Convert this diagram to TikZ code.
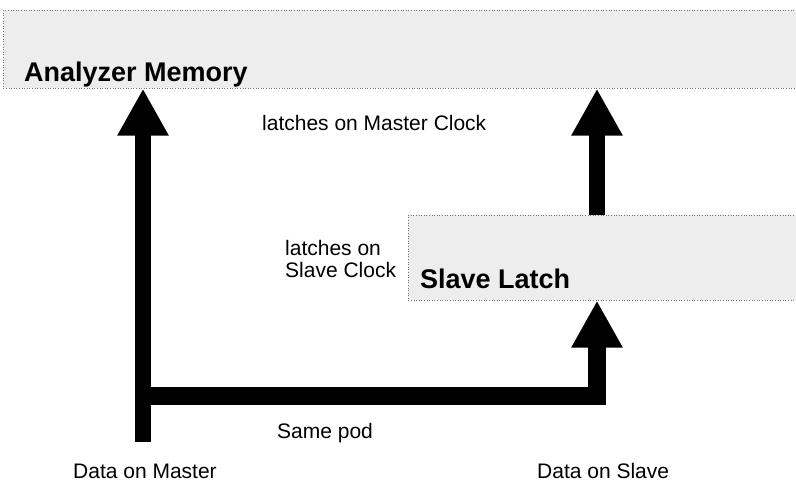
\documentclass[tikz,border=0pt]{standalone}
\usepackage{fontspec}
\setmainfont{Liberation Sans}
\usetikzlibrary{arrows.meta}
\begin{document}
\begin{tikzpicture}[x=1pt,y=-1pt,
  band/.style={draw=black!55, dotted, line width=0.6pt, fill=black!7, inner sep=0pt, anchor=north west},
  title/.style={font=\fontsize{27}{30}\selectfont\bfseries, inner sep=0pt, anchor=base west},
  lbl/.style={font=\fontsize{21}{24}\selectfont, inner sep=0pt, anchor=base west, align=left},
  bigarrow/.style={line width=16.5pt, miter limit=10, -{Triangle[width=48pt,length=47pt]}}]
\useasboundingbox (0,0) rectangle (796,487);
\fill[white] (0,0) rectangle (796,487);
% bands
\node (mem) [band, minimum width=793pt, minimum height=78pt] at (3,10) {};
\node (slave) [band, minimum width=388pt, minimum height=85pt] at (408,215) {};
% titles
\node (memt) [title] at (24,82) {Analyzer Memory};
\node (slavet) [title] at (420,288) {Slave Latch};
% labels
\node (lmc) [lbl] at (262,130) {latches on Master Clock};
\node (lsc) [lbl, anchor=north west] at (285,240) {latches on\\[-1.5pt]Slave Clock};
\node (pod) [lbl] at (277,438) {Same pod};
\node (dm) [lbl] at (73,478) {Data on Master};
\node (ds) [lbl] at (537,478) {Data on Slave};
% coordinates
\coordinate (m0) at (143,442);
\coordinate (j0) at (143,396);
\coordinate (jr) at (597,396);
% arrows
\draw[bigarrow] (m0) -- (mem.south -| m0);
\draw[bigarrow, line width=17.5pt] (j0) -- (jr) -- (slave.south -| jr);
\draw[bigarrow] (slave.north -| jr) -- (mem.south -| jr);
\end{tikzpicture}
\end{document}
